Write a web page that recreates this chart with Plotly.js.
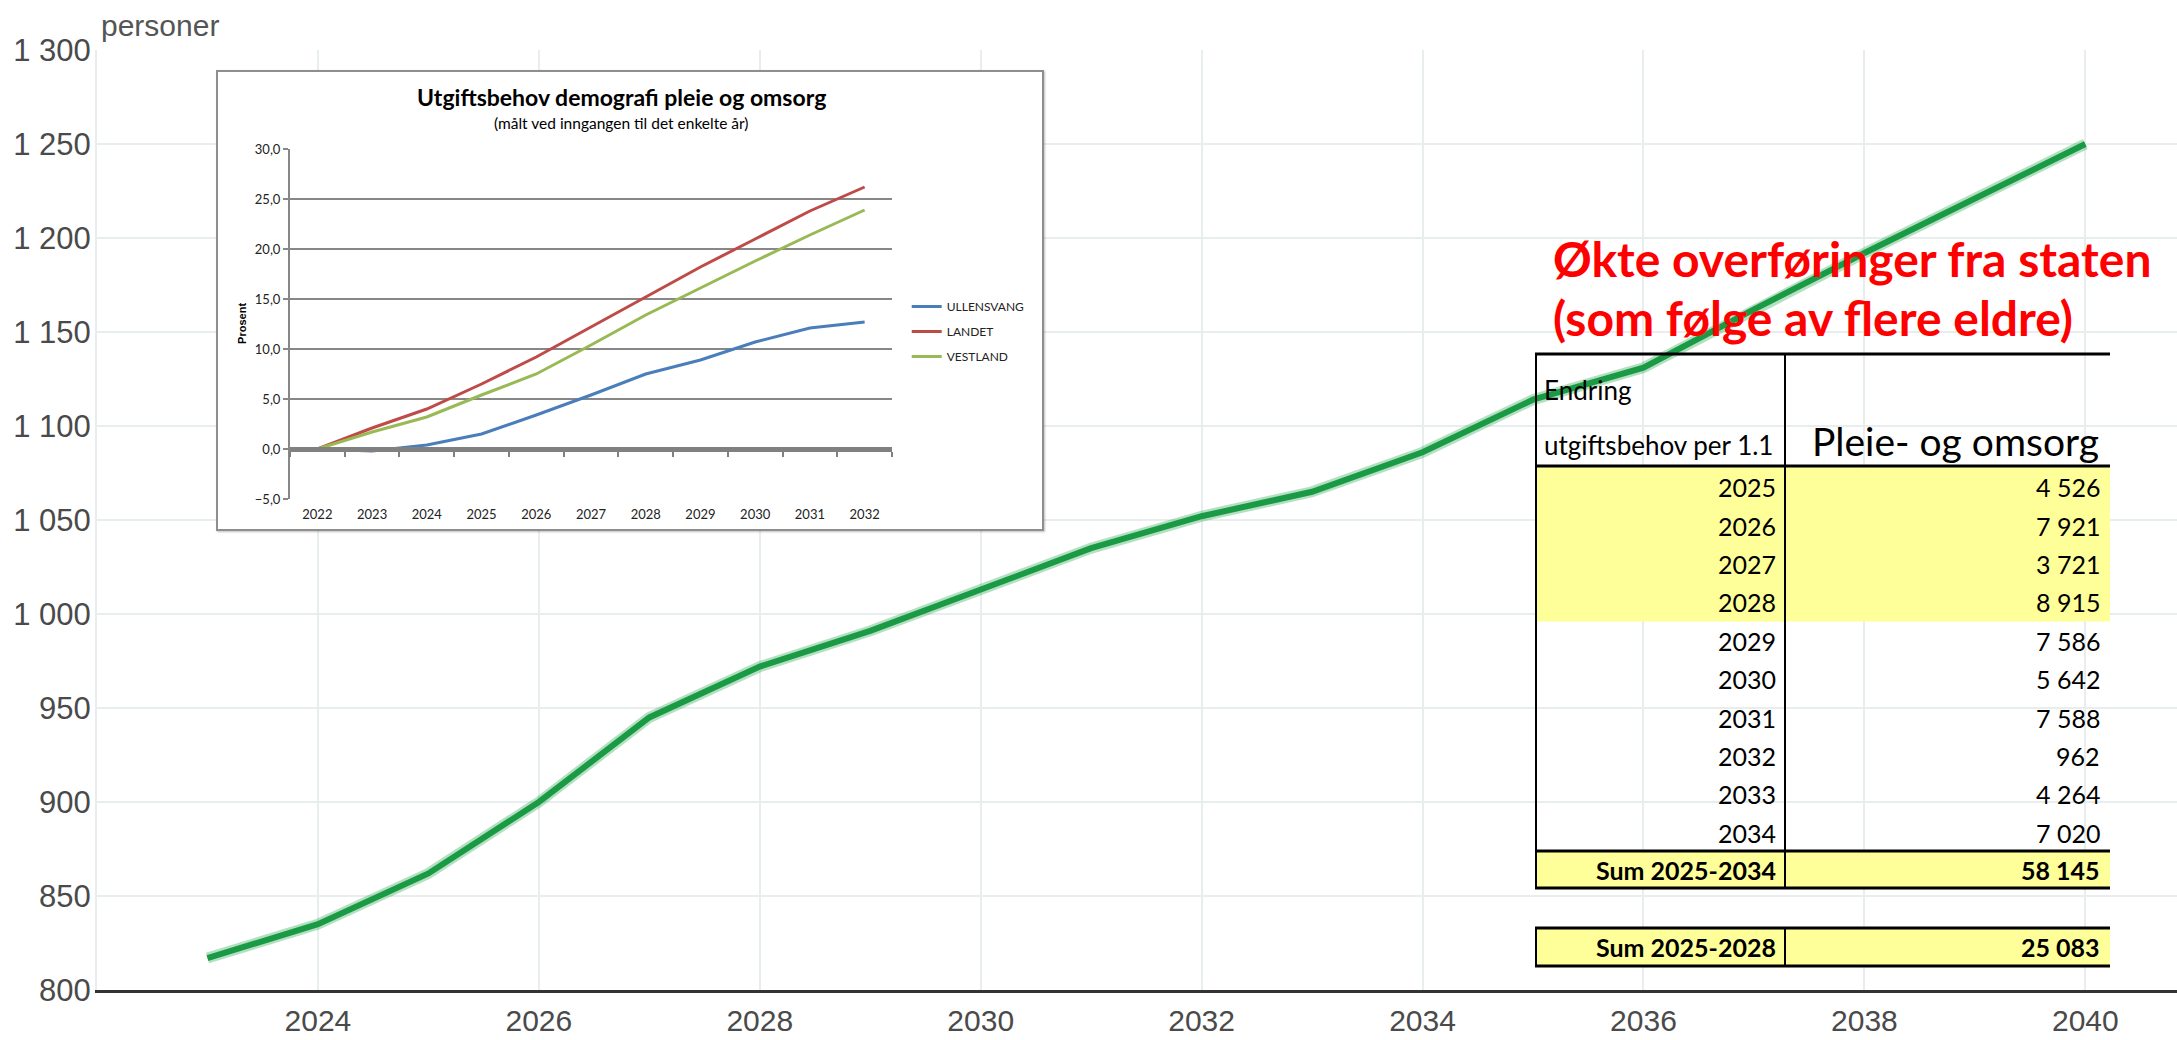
<!DOCTYPE html>
<html><head><meta charset="utf-8">
<script src="https://cdn.plot.ly/plotly-3.0.1.min.js"></script>
<style>
html,body{margin:0;padding:0;background:#fff;overflow:hidden}
#main{position:absolute;left:0;top:0;width:2177px;height:1040px}
#insetBox{position:absolute;left:216px;top:70px;width:824px;height:457px;border:2px solid #8e8e8e;background:#fff;box-shadow:1px 1px 2px rgba(0,0,0,0.25)}
#inset{width:824px;height:457px}
</style></head><body>
<div id="main"></div>
<div id="insetBox"><div id="inset"></div></div>
<script>
// ---------- main chart data ----------
const years = [2023,2024,2025,2026,2027,2028,2029,2030,2031,2032,2033,2034,2035,2036,2037,2038,2039,2040];
const personer = [817,835,862,900,945,972,991,1013,1035,1052,1065,1086,1114,1131,1162,1192,1221,1250];
const xTickVals = [2024,2026,2028,2030,2032,2034,2036,2038,2040];
const yAxisLabel = 'personer';

// ---------- table data ----------
const tableYears = [2025,2026,2027,2028,2029,2030,2031,2032,2033,2034];
const tableValues = [4526,7921,3721,8915,7586,5642,7588,962,4264,7020];
const highlightYears = [2025,2026,2027,2028];
const headerLeft = ['Endring','utgiftsbehov per 1.1'];
const headerRight = 'Pleie- og omsorg';
const redTitle = ['Økte overføringer fra staten','(som følge av flere eldre)'];

// ---------- inset data ----------
const insetYears = [2022,2023,2024,2025,2026,2027,2028,2029,2030,2031,2032];
const ullensvang = [0,-0.2,0.4,1.5,3.4,5.4,7.5,8.9,10.7,12.1,12.7];
const landet = [0,2.1,4.0,6.5,9.2,12.2,15.2,18.2,21.0,23.8,26.2];
const vestland = [0,1.7,3.2,5.4,7.5,10.4,13.4,16.1,18.8,21.4,23.9];
const insetTitle = 'Utgiftsbehov demografi pleie og omsorg';
const insetSubtitle = '(målt ved inngangen til det enkelte år)';

const fmt = v => String(v).replace(/\B(?=(\d{3})+(?!\d))/g, ' ');

// ================= MAIN =================
const W=2177, H=1040, M={l:97,r:0,t:50,b:50};
const px = x => (x-M.l)/(W-M.l-M.r);
const py = y => (H-M.b-y)/(H-M.t-M.b);
const axisFont = {family:'Liberation Sans, Arial, sans-serif', size:31, color:'#4a4a4a'};
const xAxisFont = {family:'Liberation Sans, Arial, sans-serif', size:30, color:'#4a4a4a'};
const tFont = {family:'Lato, sans-serif', size:25, color:'#000'};
const tFontB = {family:'Lato, sans-serif', size:25, color:'#000', weight:700};

const shapes = [], ann = [];
const T = {L:1536, D:1785, R:2110, top:354, headBot:466, rowTop:468, rowH:38.4,
           s1Top:851, s1Bot:888, s2Top:928, s2Bot:966, yearRight:1778, valRight:2102};
const yellow = '#ffff99';
function rect(x0,y0,x1,y1,fill){shapes.push({type:'rect',xref:'paper',yref:'paper',x0:px(x0),x1:px(x1),y0:py(y0),y1:py(y1),fillcolor:fill,line:{width:0},layer:'above'});}
function hline(y,x0,x1,w){shapes.push({type:'line',xref:'paper',yref:'paper',x0:px(x0),x1:px(x1),y0:py(y),y1:py(y),line:{color:'#000',width:w},layer:'above'});}
function vline(x,y0,y1,w){shapes.push({type:'line',xref:'paper',yref:'paper',x0:px(x),x1:px(x),y0:py(y0),y1:py(y1),line:{color:'#000',width:w},layer:'above'});}
function text(x,y,t,font,xa){ann.push({xref:'paper',yref:'paper',x:px(x),y:py(y),text:t,font:font,xanchor:xa||'left',yanchor:'middle',showarrow:false});}

const nHi = highlightYears.length;
rect(T.L, T.headBot, T.R, T.rowTop + nHi*T.rowH, yellow);
rect(T.L, T.s1Top, T.R, T.s1Bot, yellow);
rect(T.L, T.s2Top, T.R, T.s2Bot, yellow);
[T.top, T.headBot, T.s1Top, T.s1Bot, T.s2Top, T.s2Bot].forEach(y => hline(y, T.L-1, T.R, 3));
vline(T.L, T.top, T.s1Bot, 2); vline(T.D, T.top, T.s1Bot, 2);
vline(T.L, T.s2Top, T.s2Bot, 2); vline(T.D, T.s2Top, T.s2Bot, 2);

text(1542, 390, headerLeft[0], {family:'Lato, sans-serif', size:26, color:'#000'});
text(1542, 445, headerLeft[1], {family:'Lato, sans-serif', size:26, color:'#000'});
text(2101, 441, headerRight, {family:'Lato, sans-serif', size:39, color:'#000'}, 'right');
tableYears.forEach((yr,i) => {
  const yc = T.rowTop + (i+0.5)*T.rowH;
  text(T.yearRight, yc, String(yr), tFont, 'right');
  text(T.valRight, yc, fmt(tableValues[i]), tFont, 'right');
});
const sumAll = tableValues.reduce((a,b)=>a+b,0);
const sumHi = tableValues.filter((v,i)=>highlightYears.includes(tableYears[i])).reduce((a,b)=>a+b,0);
text(T.yearRight, (T.s1Top+T.s1Bot)/2, 'Sum '+tableYears[0]+'-'+tableYears[tableYears.length-1], tFontB, 'right');
text(T.valRight, (T.s1Top+T.s1Bot)/2, fmt(sumAll), tFontB, 'right');
text(T.yearRight, (T.s2Top+T.s2Bot)/2, 'Sum '+highlightYears[0]+'-'+highlightYears[nHi-1], tFontB, 'right');
text(T.valRight, (T.s2Top+T.s2Bot)/2, fmt(sumHi), tFontB, 'right');

const redFont = {family:'Lato, sans-serif', size:48, color:'#ff0000', weight:700};
text(1551, 258, redTitle[0], redFont);
text(1551, 317, redTitle[1], redFont);

text(99, 26, yAxisLabel, {family:'Liberation Sans, Arial, sans-serif', size:30, color:'#555'});

const mainData = [
  {x:years, y:personer, mode:'lines', line:{color:'rgba(40,165,80,0.35)', width:11}, hoverinfo:'skip', showlegend:false},
  {x:years, y:personer, mode:'lines', line:{color:'#1b9a45', width:6}, showlegend:false}
];
const mainLayout = {
  width:W, height:H, margin:M, paper_bgcolor:'#fff', plot_bgcolor:'#fff',
  separators:', ', showlegend:false,
  xaxis:{range:[2022, 2040.83], tickvals:xTickVals, showgrid:true, gridcolor:'#e8eded', gridwidth:2,
         showline:true, linecolor:'#333', linewidth:3, zeroline:false, ticks:'', tickfont:xAxisFont, ticklabelstandoff:2},
  yaxis:{range:[800,1300], tick0:800, dtick:50, separatethousands:true, showgrid:true, gridcolor:'#e8eded', gridwidth:2,
         showline:true, linecolor:'#e8eded', linewidth:2, zeroline:false, ticks:'', tickfont:axisFont, ticklabelstandoff:-2},
  shapes:shapes, annotations:ann
};
Plotly.newPlot('main', mainData, mainLayout, {staticPlot:true, displayModeBar:false});

// ================= INSET =================
const IW=824, IH=457, IM={l:72,r:139,t:77,b:30};
const ix = x => (x-IM.l)/(IW-IM.l-IM.r);
const iy = y => (IH-IM.b-y)/(IH-IM.t-IM.b);
const insetRange = [insetYears[0]-0.5, insetYears[insetYears.length-1]+0.5];
const boundaries = insetYears.concat([insetYears[insetYears.length-1]+1]).map(v=>v-0.5);
const smallFont = {family:'Lato, sans-serif', size:13, color:'#222'};
const legFont = {family:'Lato, sans-serif', size:12, color:'#222'};
const yR = [-5,30];
const insetData = [
  {x:insetYears, y:ullensvang, name:'ULLENSVANG', legendgroup:'a', mode:'lines', line:{color:'#4a7ebb', width:3}, xaxis:'x', yaxis:'y'},
  {x:insetYears, y:landet, name:'LANDET', legendgroup:'b', mode:'lines', line:{color:'#be4b48', width:3}, xaxis:'x2', yaxis:'y'},
  {x:insetYears, y:vestland, name:'VESTLAND', legendgroup:'c', mode:'lines', line:{color:'#98b954', width:3}, xaxis:'x2', yaxis:'y'}
];
const insetLayout = {
  width:IW, height:IH, margin:IM, paper_bgcolor:'#fff', plot_bgcolor:'#fff', separators:', ',
  xaxis:{range:insetRange, tickvals:insetYears, showgrid:false, showline:false, zeroline:false, ticks:'',
         tickfont:smallFont, ticklabelstandoff:6},
  xaxis2:{overlaying:'x', anchor:'free', position:(0-yR[0])/(yR[1]-yR[0]), range:insetRange, tickvals:boundaries,
          ticks:'outside', ticklen:5, tickwidth:2, tickcolor:'#808080', showticklabels:false,
          showline:true, linecolor:'#808080', linewidth:5, showgrid:false, zeroline:false},
  yaxis:{range:yR, dtick:5, tick0:-5, tickformat:'.1f', showgrid:true, gridcolor:'#878787', gridwidth:1.5,
         showline:true, linecolor:'#878787', linewidth:2, ticks:'outside', ticklen:5, tickwidth:1.5, tickcolor:'#878787',
         zeroline:false, tickfont:smallFont},
  showlegend:true,
  legend:{x:ix(700), y:iy(220), xanchor:'left', yanchor:'top', font:legFont, itemwidth:30, bgcolor:'rgba(0,0,0,0)',
          traceorder:'grouped', tracegroupgap:6},
  annotations:[
    {xref:'paper',yref:'paper',x:ix(410),y:iy(25),text:'<b>'+insetTitle+'</b>',font:{family:'Lato, sans-serif',size:23,color:'#000'},showarrow:false,xanchor:'center',yanchor:'middle'},
    {xref:'paper',yref:'paper',x:ix(410),y:iy(51),text:insetSubtitle,font:{family:'Lato, sans-serif',size:15.5,color:'#000'},showarrow:false,xanchor:'center',yanchor:'middle'},
    {xref:'paper',yref:'paper',x:ix(23),y:iy(251),text:'<b>Prosent</b>',textangle:-90,font:{family:'Liberation Sans, Arial, sans-serif',size:11,color:'#000'},showarrow:false,xanchor:'center',yanchor:'middle'}
  ]
};
Plotly.newPlot('inset', insetData, insetLayout, {staticPlot:true, displayModeBar:false});
</script></body></html>
